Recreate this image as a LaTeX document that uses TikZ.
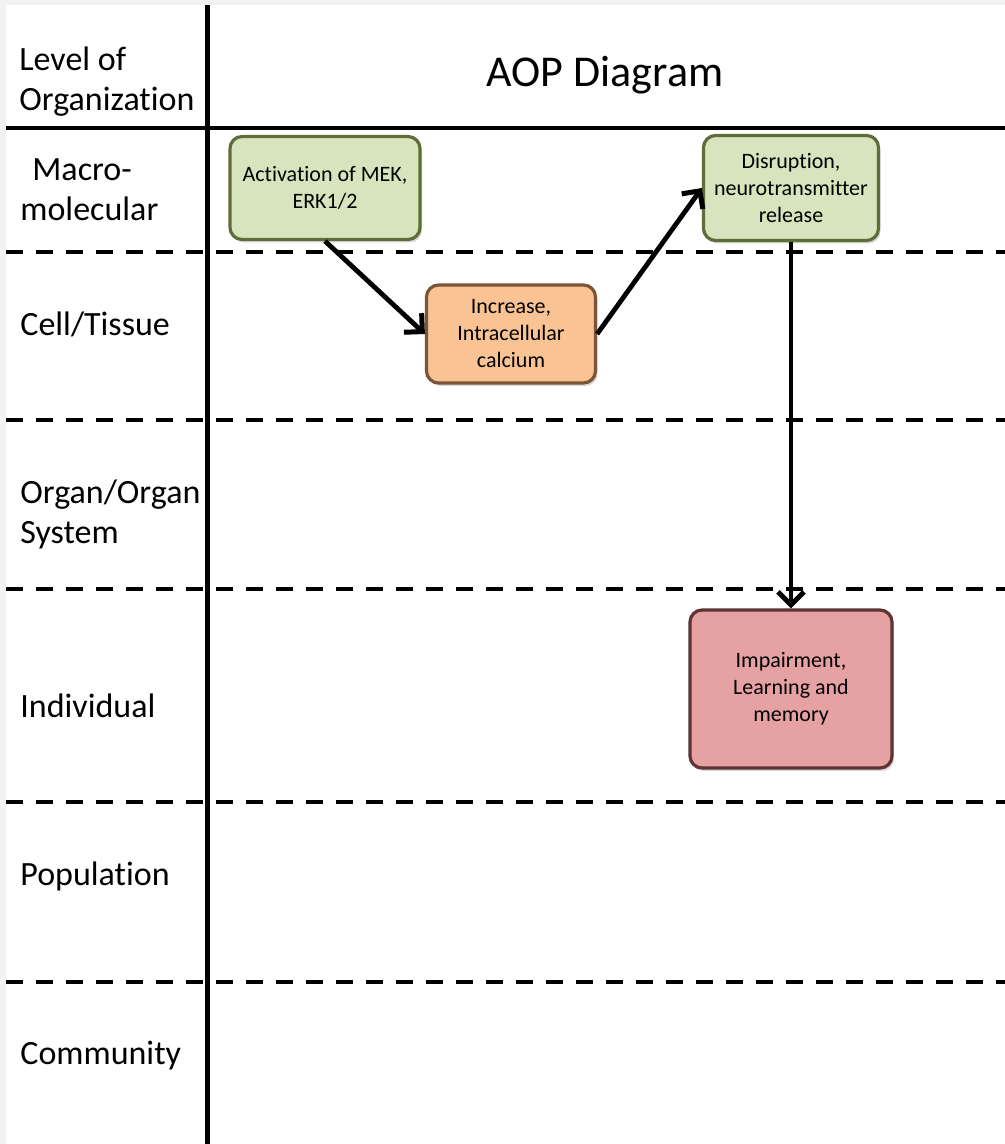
\documentclass[tikz,border=0pt]{standalone}
\usepackage{fontspec}
\setmainfont{Carlito}[Ligatures=NoCommon]
\usepackage{xcolor}
\usetikzlibrary{arrows.meta,positioning,shadows}
\definecolor{grnfill}{HTML}{D7E4BD}
\definecolor{grnline}{HTML}{5E6E38}
\definecolor{orgfill}{HTML}{FAC394}
\definecolor{orgline}{HTML}{7A5538}
\definecolor{pnkfill}{HTML}{E6A1A2}
\definecolor{pnkline}{HTML}{5E3434}
\begin{document}
\begin{tikzpicture}[x=0.5pt,y=-0.5pt,
  lvl/.style={anchor=west,inner sep=0pt,align=left,font=\fontsize{17}{20}\selectfont},
  ke/.style={draw,rounded corners=6pt,line width=1.6pt,align=center,inner sep=2pt,
    font=\fontsize{11}{13.5}\selectfont,drop shadow={opacity=0.3,shadow xshift=1pt,shadow yshift=-1.5pt}},
  dline/.style={line width=2pt,dash pattern=on 8.5pt off 6.5pt},
  ar/.style={line width=2.4pt,-{Straight Barb[length=6.5pt,width=13pt,line width=2.5pt]}}]
\fill[black!5] (0,0) rectangle (1005,1144);
\fill[white] (6,5) rectangle (1005,1144);
\useasboundingbox (0,0) rectangle (1005,1144);
\foreach \y in {252,420,589,802,982}
  \draw[dline] (6,\y) -- (1005,\y);
\draw[line width=2pt] (6,128) -- (1005,128);
\draw[line width=2.5pt] (207,5) -- (207,1144);
\node[lvl] (hdr) at (19,82) {Level of\\Organization};
\node[font=\fontsize{22}{26}\selectfont] (ttl) at (605,75) {AOP Diagram};
\node[lvl] (macro) at (20,190) {\hspace*{6pt}Macro-\\molecular};
\node[lvl] (cell) at (20,324) {Cell/Tissue};
\node[lvl] (organ) at (20,514) {Organ/Organ\\System};
\node[lvl] (indiv) at (20,706) {Individual};
\node[lvl] (popu) at (20,876) {Population};
\node[lvl] (comm) at (20,1056) {Community};
\node[ke,fill=grnfill,draw=grnline,minimum width=95pt,minimum height=51.5pt] (mek) at (325,188) {Activation of MEK,\\ERK1/2};
\node[ke,fill=orgfill,draw=orgline,minimum width=84.5pt,minimum height=49pt] (calc) at (511,334) {Increase,\\Intracellular\\calcium};
\node[ke,fill=grnfill,draw=grnline,minimum width=87.5pt,minimum height=52.5pt] (disr) at (791,188) {Disruption,\\neurotransmitter\\release};
\node[ke,fill=pnkfill,draw=pnkline,minimum width=101pt,minimum height=79pt] (impa) at (791,689) {Impairment,\\Learning and\\memory};
\draw[ar] (mek.south) -- (calc.west);
\draw[ar] (calc.east) -- (disr.west);
\draw[ar] (disr.south) -- (impa.north);
\end{tikzpicture}
\end{document}
